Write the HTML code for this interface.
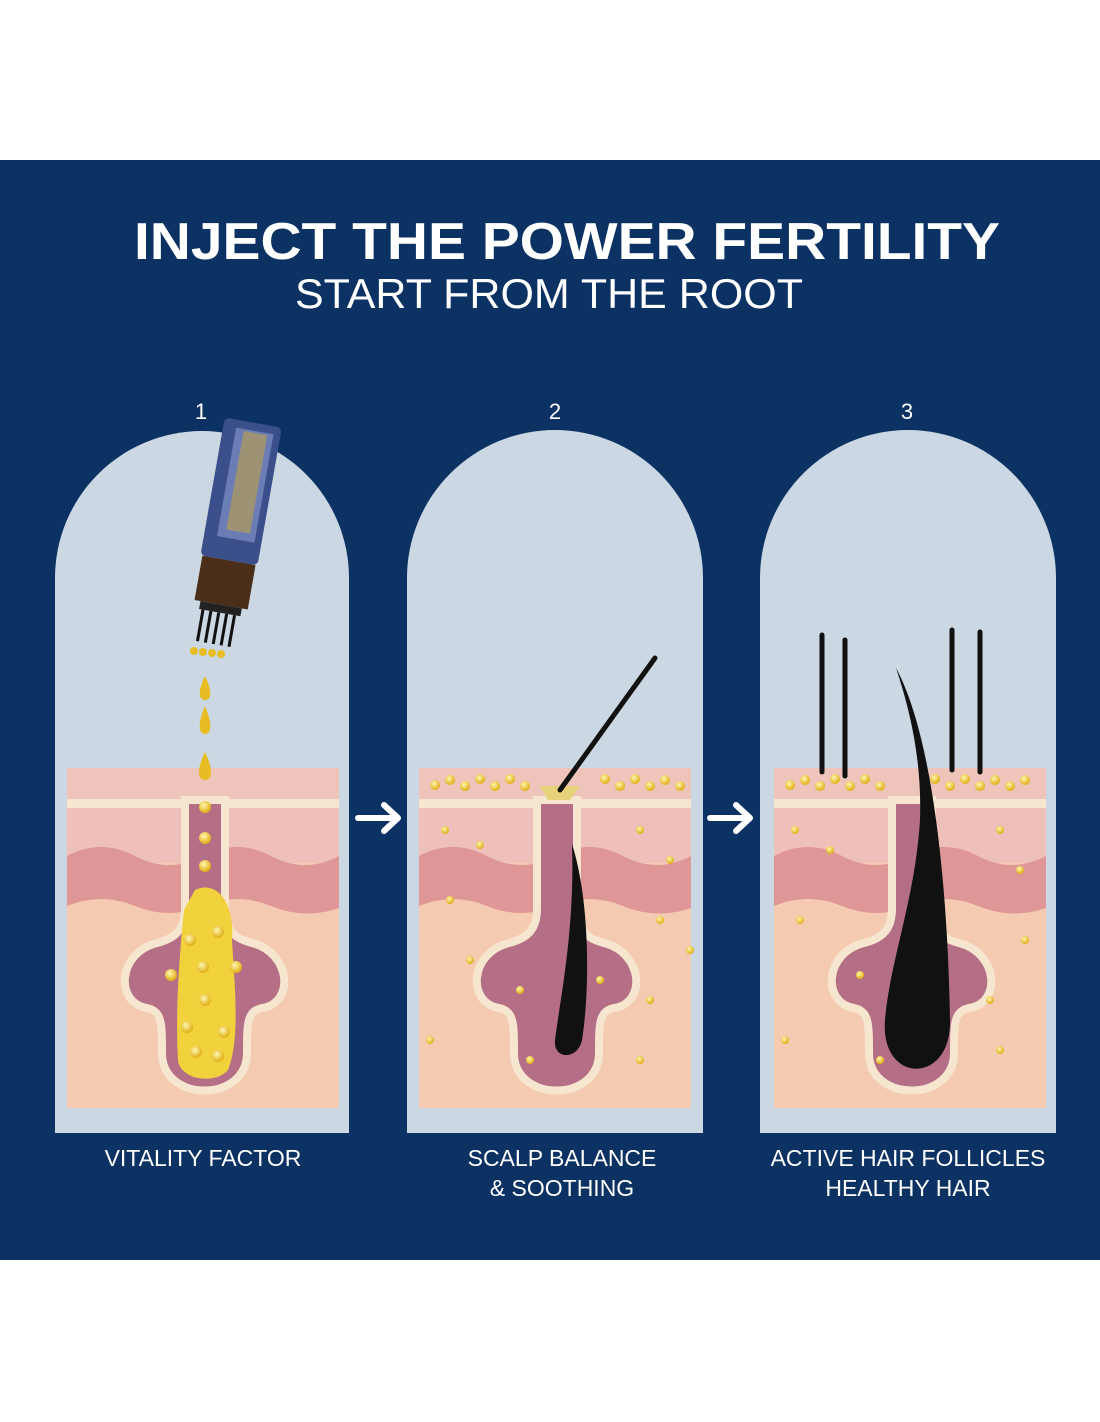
<!DOCTYPE html>
<html><head><meta charset="utf-8"><style>
html,body{margin:0;padding:0;background:#fff;}
body{width:1100px;height:1422px;position:relative;overflow:hidden;font-family:"Liberation Sans",sans-serif;}
</style></head><body>
<svg width="1100" height="1422" viewBox="0 0 1100 1422" xmlns="http://www.w3.org/2000/svg" style="position:absolute;left:0;top:0">
<defs>
<radialGradient id="dot" cx="40%" cy="35%" r="60%"><stop offset="0" stop-color="#fff6b0"/><stop offset="1" stop-color="#e2b21c"/></radialGradient>
<g id="skin">
  <rect x="0" y="0" width="272" height="340" fill="#f4cbb0"/>
  <rect x="0" y="0" width="272" height="34" fill="#efc4ba"/>
  <rect x="0" y="31" width="272" height="9" fill="#f6e6cf"/>
  <rect x="0" y="40" width="272" height="55" fill="#efc0b9"/>
  <path d="M0,88 Q34,70 68,88 T136,88 T204,88 T272,88 L272,140 Q238,152 204,138 T136,138 T68,138 T0,138 Z" fill="#df9697"/>
  <path d="M118,32 L118,140 C118,160 110,170 90,175 C50,185 48,235 80,240 C95,243 95,255 95,285 C95,335 180,335 180,285 C180,255 180,243 195,240 C228,235 224,185 185,175 C165,170 158,160 158,140 L158,32 Z" fill="#b46f86" stroke="#f6e6cf" stroke-width="8"/>
</g>
<path id="arr" d="M0,0 L40,0 M26,-13 L40,0 L26,13" stroke="#fff" stroke-width="6" fill="none" stroke-linecap="round" stroke-linejoin="round"/>
</defs>
<rect x="0" y="160" width="1100" height="1100" fill="#0c3263"/>
<text x="567" y="259" text-anchor="middle" fill="#fff" font-size="52" font-weight="bold" font-family="Liberation Sans, sans-serif" textLength="866" lengthAdjust="spacingAndGlyphs">INJECT THE POWER FERTILITY</text>
<text x="549" y="308" text-anchor="middle" fill="#fff" font-size="42" font-family="Liberation Sans, sans-serif" textLength="508" lengthAdjust="spacingAndGlyphs">START FROM THE ROOT</text>
<g fill="#fff" font-size="22" text-anchor="middle" font-family="Liberation Sans, sans-serif">
<text x="201" y="419">1</text><text x="555" y="419">2</text><text x="907" y="419">3</text>
</g>
<g fill="#cbd7e2">
<path d="M55,1133 L55,578 A147,147 0 0 1 349,578 L349,1133 Z"/>
<path d="M407,1133 L407,578 A148,148 0 0 1 703,578 L703,1133 Z"/>
<path d="M760,1133 L760,578 A148,148 0 0 1 1056,578 L1056,1133 Z"/>
</g>
<use href="#skin" x="67" y="768"/>
<use href="#skin" x="419" y="768"/>
<use href="#skin" x="774" y="768"/>
<!-- panel1 oil -->
<path d="M195,890 C215,880 235,900 232,940 C235,990 240,1040 228,1070 C215,1085 180,1080 178,1060 C175,1010 180,950 184,910 Z" fill="#f1d23c"/>
<g fill="url(#dot)">
<circle cx="205" cy="807" r="6"/><circle cx="205" cy="838" r="6"/><circle cx="205" cy="866" r="6"/>
<circle cx="190" cy="940" r="6"/><circle cx="218" cy="932" r="6"/><circle cx="171" cy="975" r="6"/><circle cx="203" cy="967" r="6"/><circle cx="236" cy="967" r="6"/>
<circle cx="205" cy="1000" r="6"/><circle cx="187" cy="1027" r="6"/><circle cx="224" cy="1032" r="6"/><circle cx="196" cy="1052" r="6"/><circle cx="218" cy="1056" r="6"/>
</g>
<!-- drops -->
<g fill="#e8bd24">
<path d="M205,676 C198,690 198,700 205,700 C212,700 212,690 205,676Z"/>
<path d="M205,706 C198,722 198,734 205,734 C212,734 212,722 205,706Z"/>
<path d="M205,752 C197,768 197,780 205,780 C213,780 213,768 205,752Z"/>
<circle cx="194" cy="651" r="4"/><circle cx="203" cy="652" r="4"/><circle cx="212" cy="653" r="4"/><circle cx="221" cy="654" r="4"/>
</g>
<!-- bottle -->
<g transform="rotate(10 230 520)">
<rect x="207" y="420" width="58" height="140" rx="5" fill="#3b4f8a"/>
<rect x="220" y="428" width="38" height="110" fill="#6b7db5"/>
<rect x="228" y="430" width="24" height="100" fill="#c0a04a" opacity="0.6"/>
<rect x="209" y="560" width="54" height="45" fill="#4a2e1a"/>
<rect x="215" y="605" width="42" height="8" fill="#222"/>
<g stroke="#111" stroke-width="3"><line x1="219" y1="613" x2="219" y2="645"/><line x1="227" y1="613" x2="227" y2="645"/><line x1="235" y1="613" x2="235" y2="645"/><line x1="243" y1="613" x2="243" y2="645"/><line x1="251" y1="613" x2="251" y2="645"/></g>
</g>
<!-- panel2 -->
<g fill="url(#dot)">
<circle cx="435" cy="785" r="5"/><circle cx="450" cy="780" r="5"/><circle cx="465" cy="786" r="5"/><circle cx="480" cy="779" r="5"/><circle cx="495" cy="786" r="5"/><circle cx="510" cy="779" r="5"/><circle cx="525" cy="786" r="5"/>
<circle cx="605" cy="779" r="5"/><circle cx="620" cy="786" r="5"/><circle cx="635" cy="779" r="5"/><circle cx="650" cy="786" r="5"/><circle cx="665" cy="780" r="5"/><circle cx="680" cy="786" r="5"/>
<circle cx="445" cy="830" r="4"/><circle cx="480" cy="845" r="4"/><circle cx="640" cy="830" r="4"/><circle cx="670" cy="860" r="4"/><circle cx="450" cy="900" r="4"/><circle cx="660" cy="920" r="4"/><circle cx="470" cy="960" r="4"/><circle cx="650" cy="1000" r="4"/><circle cx="530" cy="1060" r="4"/><circle cx="640" cy="1060" r="4"/><circle cx="600" cy="980" r="4"/><circle cx="520" cy="990" r="4"/><circle cx="690" cy="950" r="4"/><circle cx="430" cy="1040" r="4"/>
</g>
<path d="M540,786 L580,786 L570,800 L548,800 Z" fill="#e7d27a"/>
<line x1="560" y1="790" x2="655" y2="658" stroke="#111" stroke-width="5" stroke-linecap="round"/>
<path d="M572,844 C590,900 590,990 582,1040 C578,1060 553,1060 555,1040 C560,1000 575,930 572,844Z" fill="#111"/>
<!-- panel3 -->
<g fill="url(#dot)">
<circle cx="790" cy="785" r="5"/><circle cx="805" cy="780" r="5"/><circle cx="820" cy="786" r="5"/><circle cx="835" cy="779" r="5"/><circle cx="850" cy="786" r="5"/><circle cx="865" cy="779" r="5"/><circle cx="880" cy="786" r="5"/>
<circle cx="935" cy="779" r="5"/><circle cx="950" cy="786" r="5"/><circle cx="965" cy="779" r="5"/><circle cx="980" cy="786" r="5"/><circle cx="995" cy="780" r="5"/><circle cx="1010" cy="786" r="5"/><circle cx="1025" cy="780" r="5"/>
<circle cx="795" cy="830" r="4"/><circle cx="830" cy="850" r="4"/><circle cx="1000" cy="830" r="4"/><circle cx="1020" cy="870" r="4"/><circle cx="800" cy="920" r="4"/><circle cx="1025" cy="940" r="4"/><circle cx="860" cy="975" r="4"/><circle cx="990" cy="1000" r="4"/><circle cx="880" cy="1060" r="4"/><circle cx="1000" cy="1050" r="4"/><circle cx="785" cy="1040" r="4"/>
</g>
<g stroke="#111" stroke-width="5" stroke-linecap="round">
<line x1="822" y1="635" x2="822" y2="772"/><line x1="845" y1="640" x2="845" y2="776"/><line x1="952" y1="630" x2="952" y2="770"/><line x1="980" y1="632" x2="980" y2="772"/>
</g>
<path d="M896,668 C935,740 948,900 950,1020 C952,1085 880,1085 885,1020 C890,960 915,900 920,820 C922,760 910,710 896,668Z" fill="#111"/>
<!-- arrows -->
<use href="#arr" x="358" y="818"/>
<use href="#arr" x="710" y="818"/>
<g fill="#fff" font-size="23" text-anchor="middle" font-family="Liberation Sans, sans-serif">
<text x="203" y="1166">VITALITY FACTOR</text>
<text x="562" y="1166">SCALP BALANCE</text>
<text x="562" y="1196">&amp; SOOTHING</text>
<text x="908" y="1166">ACTIVE HAIR FOLLICLES</text>
<text x="908" y="1196">HEALTHY HAIR</text>
</g>
</svg>
</body></html>
